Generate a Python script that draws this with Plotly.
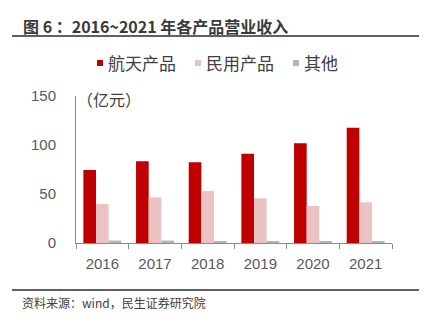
import plotly.graph_objects as go

years = ["2016", "2017", "2018", "2019", "2020", "2021"]
series_names = ["航天产品", "民用产品", "其他"]
aerospace = [74.5, 83.4, 82.3, 91.0, 101.7, 117.7]
civil = [39.8, 46.6, 53.0, 45.6, 37.8, 41.5]
other = [2.5, 2.5, 1.3, 2.0, 2.0, 1.8]
colors = ["#C00000", "#EBC3C3", "#B5B5B5"]
y_ticks = [0, 50, 100, 150]

W, H = 431, 327
L, R, T, B = 76, 392, 96, 243


def px(x):
    return (x - L) / (R - L)


def py(y):
    return (B - y) / (B - T)


fig = go.Figure()
for name, vals, col in zip(series_names, [aerospace, civil, other], colors):
    fig.add_trace(go.Bar(x=years, y=vals, name=name, marker=dict(color=col, line=dict(width=0)),
                         showlegend=False))

font_cn = "Microsoft YaHei, Noto Sans CJK SC, sans-serif"
font_num = "Liberation Sans, Noto Sans CJK SC, sans-serif"

shapes = [
    dict(type="line", xref="paper", yref="paper", x0=px(12), x1=px(419), y0=py(36), y1=py(36),
         line=dict(color="#606060", width=2)),
    dict(type="line", xref="paper", yref="paper", x0=px(12), x1=px(419), y0=py(290), y1=py(290),
         line=dict(color="#606060", width=2)),
]
annotations = [
    dict(text="<b>图 6 ：2016~2021 年各产品营业收入</b>", xref="paper", yref="paper", x=px(21), y=py(26),
         xanchor="left", yanchor="middle", showarrow=False, font=dict(family=font_cn, size=16, color="#3a3a3a")),
    dict(text="资料来源：wind，民生证券研究院", xref="paper", yref="paper", x=px(20), y=py(302),
         xanchor="left", yanchor="middle", showarrow=False, font=dict(family=font_cn, size=12, color="#404040")),
    dict(text="（亿元）", xref="paper", yref="paper", x=px(75), y=py(99),
         xanchor="left", yanchor="middle", showarrow=False, font=dict(family=font_cn, size=16, color="#404040")),
]

leg_sq = [97, 195, 293]
for name, col, xs in zip(series_names, colors, leg_sq):
    shapes.append(dict(type="rect", xref="paper", yref="paper", x0=px(xs), x1=px(xs + 6),
                       y0=py(66), y1=py(60), fillcolor=col, line=dict(width=0)))
    annotations.append(dict(text=name, xref="paper", yref="paper", x=px(xs + 9), y=py(63),
                            xanchor="left", yanchor="middle", showarrow=False,
                            font=dict(family=font_cn, size=17, color="#404040")))

fig.update_layout(
    width=W, height=H,
    margin=dict(l=L, r=W - R, t=T, b=H - B, pad=0),
    paper_bgcolor="white", plot_bgcolor="white",
    barmode="group", bargap=0.28, bargroupgap=0,
    shapes=shapes, annotations=annotations,
    font=dict(family=font_num, color="#595959"),
    xaxis=dict(type="category", showline=True, linecolor="#8a8a8a", linewidth=1,
               ticks="outside", tickson="boundaries", ticklen=5, tickcolor="#8a8a8a",
               tickfont=dict(size=15, color="#595959", family=font_num), showgrid=False,
               ticklabelstandoff=7),
    yaxis=dict(range=[0, 150], tickvals=y_ticks, showline=True, linecolor="#8a8a8a", linewidth=1,
               showgrid=False, zeroline=False, ticks="",
               tickfont=dict(size=15, color="#595959", family=font_num), ticklabelstandoff=16),
)

fig.write_html("out.html")
